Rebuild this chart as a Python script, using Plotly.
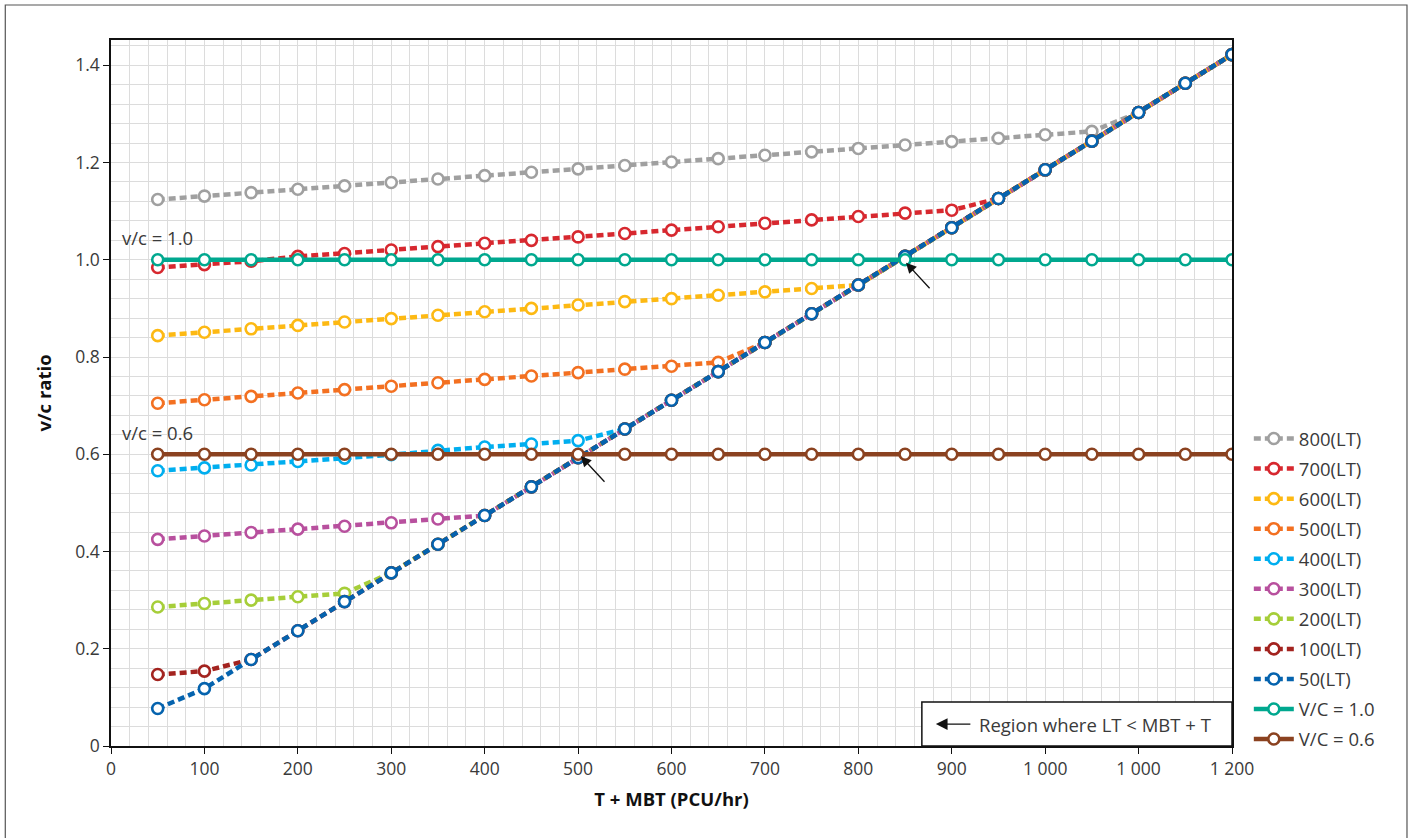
import plotly.graph_objects as go

# ---------------- data ----------------
x_vals = [50, 100, 150, 200, 250, 300, 350, 400, 450, 500, 550, 600,
          650, 700, 750, 800, 850, 900, 950, 1000, 1050, 1100, 1150, 1200]

lt_800 = [1.124, 1.131, 1.138, 1.145, 1.152, 1.159, 1.166, 1.173, 1.180, 1.187, 1.194, 1.201,
          1.208, 1.215, 1.222, 1.229, 1.236, 1.243, 1.250, 1.257, 1.264, 1.303, 1.363, 1.422]
lt_700 = [0.984, 0.990, 0.997, 1.007, 1.013, 1.020, 1.027, 1.034, 1.040, 1.047, 1.054, 1.061,
          1.068, 1.075, 1.082, 1.089, 1.096, 1.102, 1.126, 1.185, 1.244, 1.303, 1.363, 1.422]
lt_600 = [0.844, 0.851, 0.858, 0.865, 0.872, 0.879, 0.886, 0.893, 0.900, 0.907, 0.914, 0.920,
          0.927, 0.934, 0.941, 0.948, 1.007, 1.066, 1.126, 1.185, 1.244, 1.303, 1.363, 1.422]
lt_500 = [0.705, 0.712, 0.719, 0.726, 0.733, 0.740, 0.747, 0.754, 0.761, 0.768, 0.775, 0.781,
          0.789, 0.830, 0.889, 0.948, 1.007, 1.066, 1.126, 1.185, 1.244, 1.303, 1.363, 1.422]
lt_400 = [0.566, 0.572, 0.578, 0.585, 0.592, 0.599, 0.608, 0.615, 0.621, 0.628, 0.652, 0.711,
          0.770, 0.830, 0.889, 0.948, 1.007, 1.066, 1.126, 1.185, 1.244, 1.303, 1.363, 1.422]
lt_300 = [0.425, 0.432, 0.439, 0.446, 0.452, 0.459, 0.467, 0.474, 0.533, 0.593, 0.652, 0.711,
          0.770, 0.830, 0.889, 0.948, 1.007, 1.066, 1.126, 1.185, 1.244, 1.303, 1.363, 1.422]
lt_200 = [0.286, 0.293, 0.300, 0.307, 0.314, 0.356, 0.415, 0.474, 0.533, 0.593, 0.652, 0.711,
          0.770, 0.830, 0.889, 0.948, 1.007, 1.066, 1.126, 1.185, 1.244, 1.303, 1.363, 1.422]
lt_100 = [0.147, 0.154, 0.178, 0.237, 0.297, 0.356, 0.415, 0.474, 0.533, 0.593, 0.652, 0.711,
          0.770, 0.830, 0.889, 0.948, 1.007, 1.066, 1.126, 1.185, 1.244, 1.303, 1.363, 1.422]
lt_50 = [0.077, 0.118, 0.178, 0.237, 0.297, 0.356, 0.415, 0.474, 0.533, 0.593, 0.652, 0.711,
         0.770, 0.830, 0.889, 0.948, 1.007, 1.066, 1.126, 1.185, 1.244, 1.303, 1.363, 1.422]
vc_10 = [1.0] * 24
vc_06 = [0.6] * 24

series_names = ["800(LT)", "700(LT)", "600(LT)", "500(LT)", "400(LT)", "300(LT)",
                "200(LT)", "100(LT)", "50(LT)", "V/C = 1.0", "V/C = 0.6"]
series_values = [lt_800, lt_700, lt_600, lt_500, lt_400, lt_300,
                 lt_200, lt_100, lt_50, vc_10, vc_06]
series_colors = ["#A0A0A0", "#D7282F", "#FDB913", "#F37021", "#00AEEF", "#B8509E",
                 "#A6CE39", "#A3231F", "#0563AE", "#00A88F", "#8B4220"]
series_dash = ["7px,4px"] * 9 + ["solid", "solid"]

x_tickvals = [0, 100, 200, 300, 400, 500, 600, 700, 800, 900, 1000, 1100, 1200]
x_ticktext = ["0", "100", "200", "300", "400", "500", "600", "700", "800", "900",
              "1 000", "1 000", "1 200"]
y_tickvals = [0, 0.2, 0.4, 0.6, 0.8, 1.0, 1.2, 1.4]
y_ticktext = ["0", "0.2", "0.4", "0.6", "0.8", "1.0", "1.2", "1.4"]

FONT = "Open Sans"
TXT = "#3a3a3a"

fig = go.Figure()
for i, (name, vals, col, dash) in enumerate(zip(series_names, series_values,
                                                series_colors, series_dash)):
    fig.add_trace(go.Scatter(
        x=x_vals, y=vals, name=name, mode="lines+markers",
        legendgroup=f"g{i}",
        line=dict(color=col, width=4.5, dash=dash),
        marker=dict(symbol="circle", size=11, color="white",
                    line=dict(color=col, width=2.6)),
    ))

fig.update_layout(
    width=1415, height=838,
    margin=dict(l=111, r=183, t=40, b=92),
    paper_bgcolor="white", plot_bgcolor="white",
    font=dict(family=FONT, size=17, color=TXT),
    showlegend=True,
    legend=dict(x=1.015, xanchor="left", y=-0.017, yanchor="bottom",
                traceorder="grouped", tracegroupgap=3,
                font=dict(family=FONT, size=18.5, color=TXT),
                bgcolor="rgba(0,0,0,0)", itemwidth=40),
    xaxis=dict(range=[0, 1200], tickvals=x_tickvals, ticktext=x_ticktext,
               showgrid=True, gridcolor="#DCDCDC", gridwidth=1.3,
               minor=dict(dtick=20, showgrid=True, gridcolor="#DCDCDC", gridwidth=1.3),
               showline=True, linecolor="#111111", linewidth=1.5, mirror=True,
               ticks="outside", ticklen=6, tickcolor="#111111", tickwidth=1.3,
               tickfont=dict(family=FONT, size=17.5, color=TXT),
               zeroline=False,
               title=dict(text="<b>T + MBT (PCU/hr)</b>", standoff=14,
                          font=dict(family=FONT, size=18.5, color="#111111"))),
    yaxis=dict(range=[0, 1.452], tickvals=y_tickvals, ticktext=y_ticktext,
               showgrid=True, gridcolor="#DCDCDC", gridwidth=1.3,
               minor=dict(dtick=0.04, tick0=0, showgrid=True, gridcolor="#DCDCDC", gridwidth=1.3),
               showline=True, linecolor="#111111", linewidth=1.5, mirror=True,
               ticks="outside", ticklen=6, tickcolor="#111111", tickwidth=1.3,
               tickfont=dict(family=FONT, size=17.5, color=TXT),
               zeroline=False,
               title=dict(text="<b>v/c ratio</b>", standoff=19,
                          font=dict(family=FONT, size=18.5, color="#111111"))),
)

# reference-line labels
fig.add_annotation(x=10, y=1.045, xref="x", yref="y", text="v/c = 1.0",
                   showarrow=False, xanchor="left", yanchor="middle",
                   font=dict(family=FONT, size=18.5, color=TXT))
fig.add_annotation(x=10, y=0.644, xref="x", yref="y", text="v/c = 0.6",
                   showarrow=False, xanchor="left", yanchor="middle",
                   font=dict(family=FONT, size=18.5, color=TXT))

# pointer arrows
for hx, hy in [(503, 0.596), (851, 0.994)]:
    fig.add_annotation(x=hx, y=hy, xref="x", yref="y", ax=25, ay=27,
                       showarrow=True, arrowhead=2, arrowsize=1.6, arrowwidth=1.3,
                       arrowcolor="#111111", text="")

# region legend box
fig.add_shape(type="rect", xref="x", yref="y", x0=868, x1=1200, y0=0, y1=0.0905,
              line=dict(color="#111111", width=1.5), fillcolor="white", layer="above")
fig.add_annotation(x=883, y=0.045, xref="x", yref="y", ax=36, ay=0,
                   showarrow=True, arrowhead=2, arrowsize=1.8, arrowwidth=1.3,
                   arrowcolor="#111111", text="")
fig.add_annotation(x=927, y=0.045, xref="x", yref="y", text="Region where LT &lt; MBT + T",
                   showarrow=False, xanchor="left", yanchor="middle",
                   font=dict(family=FONT, size=18.5, color=TXT))

# outer frame
fig.add_shape(type="rect", xref="paper", yref="paper",
              x0=-0.0943, x1=1.1561, y0=-0.135, y1=1.0496,
              line=dict(color="#555555", width=1.2), fillcolor="rgba(0,0,0,0)")

fig.write_html("out.html", config={"displayModeBar": False},
               post_script="document.body.style.margin='0';")
